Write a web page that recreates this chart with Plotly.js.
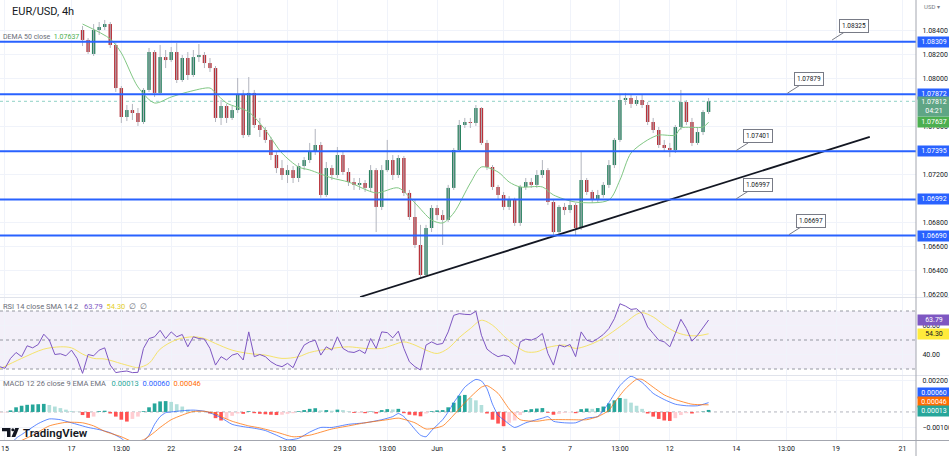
<!DOCTYPE html>
<html><head><meta charset="utf-8">
<script src="https://cdn.plot.ly/plotly-3.0.1.min.js"></script>
<style>html,body{margin:0;padding:0;background:#fff}#chart{width:949px;height:456px}</style>
</head><body><div id="chart"></div>
<script>
// ---------------- DATA ----------------
const firstBar = 14; // bar index of first visible candle (0 = Mon May 15, 4h bars)
const open = [
1.08408,1.08325,1.08208,1.08408,1.08433,1.08458,1.08283,1.07923,1.07681,1.07739,
1.07714,1.07639,1.07907,1.08224,1.07882,1.08182,1.08157,1.08224,1.07990,1.08174,
1.08032,1.08182,1.08199,1.08132,1.08090,1.07673,1.07773,1.07673,1.07739,1.07865,
1.07530,1.07882,1.07614,1.07572,1.07489,1.07363,1.07254,1.07196,1.07237,1.07171,
1.07271,1.07321,1.07388,1.07447,1.07029,1.07254,1.07196,1.07363,1.07221,1.07137,
1.07113,1.07129,1.07088,1.07237,1.06929,1.07237,1.07321,1.07196,1.07338,1.07046,
1.06845,1.06611,1.06360,1.06753,1.06920,1.06861,1.06820,1.07088,1.07405,1.07614,
1.07639,1.07631,1.07756,1.07464,1.07263,1.07096,1.07029,1.06929,1.06987,1.06795,
1.07096,1.07137,1.07113,1.07196,1.07237,1.06970,1.06719,1.06929,1.06903,1.06945,
1.06753,1.07154,1.07054,1.06987,1.07029,1.07113,1.07279,1.07489,1.07823,1.07840,
1.07790,1.07823,1.07781,1.07639,1.07572,1.07447,1.07422,1.07405,1.07597,1.07806,
1.07639,1.07464,1.07555,1.07723];
const high = [
1.08442,1.08341,1.08458,1.08475,1.08492,1.08475,1.08299,1.07940,1.07781,1.07790,
1.07756,1.07923,1.08258,1.08241,1.08283,1.08241,1.08266,1.08299,1.08199,1.08224,
1.08241,1.08291,1.08224,1.08174,1.08107,1.07823,1.07790,1.07773,1.08007,1.07907,
1.08015,1.07907,1.07673,1.07597,1.07514,1.07388,1.07321,1.07279,1.07271,1.07296,
1.07346,1.07464,1.07581,1.07472,1.07305,1.07279,1.07430,1.07388,1.07254,1.07171,
1.07171,1.07154,1.07279,1.07254,1.07279,1.07489,1.07363,1.07363,1.07355,1.07071,
1.06987,1.06779,1.06779,1.06945,1.06945,1.06903,1.07113,1.07422,1.07656,1.07673,
1.07673,1.07781,1.07764,1.07489,1.07279,1.07113,1.07054,1.07020,1.07006,1.07113,
1.07171,1.07171,1.07237,1.07321,1.07254,1.06987,1.06945,1.06962,1.06987,1.06962,
1.07388,1.07171,1.07071,1.07071,1.07137,1.07321,1.07505,1.07865,1.07882,1.07865,
1.07856,1.07865,1.07806,1.07673,1.07597,1.07489,1.07464,1.07614,1.07907,1.07823,
1.07673,1.07589,1.07739,1.07840];
const low = [
1.08274,1.08208,1.08191,1.08366,1.08408,1.08258,1.07890,1.07631,1.07647,1.07656,
1.07606,1.07622,1.07890,1.07848,1.07865,1.08090,1.08141,1.07965,1.07974,1.07990,
1.08015,1.08141,1.08090,1.08057,1.07639,1.07614,1.07631,1.07656,1.07714,1.07505,
1.07514,1.07589,1.07514,1.07464,1.07321,1.07212,1.07154,1.07129,1.07129,1.07137,
1.07237,1.07296,1.07363,1.07006,1.07012,1.07154,1.07171,1.07196,1.07104,1.07071,
1.07071,1.07054,1.07054,1.06719,1.06903,1.07221,1.07154,1.07171,1.07020,1.06820,
1.06586,1.06343,1.06343,1.06719,1.06820,1.06611,1.06803,1.07071,1.07388,1.07589,
1.07589,1.07606,1.07447,1.07237,1.07071,1.06987,1.06903,1.06903,1.06770,1.06770,
1.07071,1.07088,1.07088,1.07171,1.06945,1.06686,1.06694,1.06861,1.06878,1.06694,
1.06736,1.07029,1.06962,1.06962,1.07006,1.07088,1.07254,1.07472,1.07781,1.07756,
1.07773,1.07756,1.07614,1.07547,1.07422,1.07388,1.07346,1.07380,1.07572,1.07614,
1.07438,1.07447,1.07530,1.07706];
const close = [
1.08325,1.08224,1.08408,1.08433,1.08458,1.08283,1.07923,1.07681,1.07739,1.07714,
1.07639,1.07907,1.08224,1.07882,1.08182,1.08157,1.08224,1.07990,1.08174,1.08032,
1.08182,1.08199,1.08132,1.08090,1.07673,1.07773,1.07673,1.07739,1.07865,1.07530,
1.07882,1.07614,1.07572,1.07489,1.07363,1.07254,1.07196,1.07237,1.07171,1.07271,
1.07321,1.07388,1.07447,1.07029,1.07254,1.07196,1.07363,1.07221,1.07137,1.07113,
1.07129,1.07088,1.07237,1.06929,1.07237,1.07321,1.07196,1.07338,1.07046,1.06845,
1.06611,1.06360,1.06753,1.06920,1.06861,1.06820,1.07088,1.07405,1.07614,1.07639,
1.07631,1.07756,1.07464,1.07263,1.07096,1.07029,1.06929,1.06987,1.06795,1.07096,
1.07137,1.07113,1.07196,1.07237,1.06970,1.06719,1.06929,1.06903,1.06945,1.06753,
1.07154,1.07054,1.06987,1.07029,1.07113,1.07279,1.07489,1.07823,1.07840,1.07790,
1.07823,1.07781,1.07639,1.07572,1.07447,1.07422,1.07405,1.07597,1.07806,1.07639,
1.07464,1.07555,1.07723,1.07812];

const demaBars = [14,19,21,24,27,30,33,37,38,40,44,47,50,53,55,59,62,67,71,74,77,79,81,84,86,89,91,93,97,99,103,109,111,113,116,118,121,122,126,127];
const demaValues = [1.08458,1.08333,1.08216,1.07932,1.07798,1.07848,1.07890,1.07923,1.07882,1.07798,1.07723,1.07572,1.07379,1.07263,1.07238,1.07171,1.07137,1.07046,1.07088,1.06962,1.06820,1.06795,1.06878,1.07129,1.07263,1.07221,1.07137,1.07096,1.07096,1.07029,1.06970,1.06987,1.07154,1.07380,1.07489,1.07530,1.07530,1.07589,1.07597,1.07637];

const indicatorFirstBar = -1;
const rsi = [
31.6,30.5,37.3,41.4,38.5,46.0,44.6,46.9,54.0,50.0,
40.0,40.5,39.1,43.0,37.3,27.0,40.0,39.1,43.0,44.6,
32.7,27.5,28.2,28.6,27.5,27.7,44.2,51.0,52.2,56.7,
51.0,55.6,52.2,53.8,45.3,52.2,51.0,50.6,44.2,32.7,
38.5,36.2,39.6,40.7,36.2,55.6,38.5,40.0,38.5,35.0,
32.7,31.6,33.9,30.9,39.6,46.5,48.7,49.9,39.6,45.3,
43.0,52.2,44.2,41.9,41.4,43.0,40.7,51.0,44.2,55.6,
55.1,51.5,56.1,44.2,35.0,31.6,29.3,46.5,48.7,46.9,
47.6,55.6,67.0,68.2,67.7,67.5,69.8,53.3,43.7,40.7,
38.5,39.6,38.5,33.2,48.7,50.6,49.9,51.5,54.5,40.7,
32.7,46.5,45.3,46.9,38.5,55.6,49.9,48.7,51.0,53.8,
57.9,64.7,75.0,73.4,71.1,71.6,68.2,59.0,54.5,49.9,
48.7,45.3,54.5,64.3,57.9,49.2,53.3,59.0,63.79];
const rsiSmaBars = [-1,3,7,10,12,14,16,18,21,23,24,26,28,31,34,36,38,41,44,47,50,53,55,59,62,65,68,70,72,74,76,78,80,82,84,86,88,90,92,94,96,98,101,103,105,107,109,112,114,115,117,119,121,123,125,127];
const rsiSma = [30.0,37.3,43.7,45.3,44.6,40.3,37.3,36.9,33.7,31.6,30.9,33.9,43.7,50.3,52.2,51.0,47.6,43.0,40.7,39.6,37.3,38.5,41.4,44.2,45.3,44.2,44.2,46.5,48.7,46.5,43.0,40.7,44.2,51.7,57.9,63.6,60.2,52.9,46.5,41.9,41.9,44.9,46.5,44.2,46.0,49.2,53.8,62.0,67.7,68.9,65.9,60.2,55.6,53.3,52.9,54.30];

const histogram = [
-0.00005,-0.00003,0.00010,0.00030,0.00040,0.00046,0.00048,0.00050,0.00052,0.00045,
0.00035,0.00025,0.00015,0.00006,0.00002,-0.00020,-0.00038,-0.00030,0.00005,0.00008,
-0.00010,-0.00030,-0.00050,-0.00062,-0.00045,-0.00030,0.00005,0.00030,0.00055,0.00068,
0.00070,0.00065,0.00050,0.00035,0.00015,0.00008,0.00004,0.00002,-0.00010,-0.00040,
-0.00055,-0.00045,-0.00025,-0.00010,-0.00012,0.00005,-0.00008,-0.00012,-0.00015,-0.00018,
-0.00020,-0.00018,-0.00012,-0.00008,0.00005,0.00012,0.00020,0.00024,0.00010,0.00012,
0.00008,0.00015,0.00012,0.00004,-0.00006,-0.00005,-0.00008,0.00003,-0.00010,0.00012,
0.00018,0.00016,0.00020,-0.00008,-0.00018,-0.00022,-0.00028,-0.00010,0.00005,0.00010,
0.00012,0.00030,0.00060,0.00105,0.00110,0.00090,0.00075,0.00045,-0.00010,-0.00050,
-0.00075,-0.00092,-0.00070,-0.00055,-0.00020,0.00012,0.00018,0.00022,0.00025,-0.00005,
-0.00018,-0.00012,-0.00006,-0.00003,-0.00008,0.00018,0.00022,0.00020,0.00025,0.00035,
0.00055,0.00075,0.00090,0.00085,0.00060,0.00040,0.00020,-0.00010,-0.00030,-0.00045,
-0.00055,-0.00058,-0.00040,-0.00020,-0.00008,-0.00010,-0.00005,0.00003,0.00013];
const macdBars = [-1,2,3,6,8,10,11,13,15,17,19,21,22,24,26,27,28,29,30,32,34,36,37,39,41,43,45,47,49,51,53,55,57,59,62,65,68,70,71,72,73,75,76,77,79,80,81,82,83,85,86,87,88,89,90,92,94,97,98,99,101,103,105,107,108,109,111,113,115,117,119,121,123,125,127];
const macdLine = [-0.0030,-0.0017,-0.00146,-0.00075,-0.00045,-0.0005,-0.0006,-0.0008,-0.0010,-0.00114,-0.00134,-0.0017,-0.0020,-0.0022,-0.0015,-0.0008,-0.0003,-0.00005,0.0,0.00008,0.00012,0.00005,-0.00005,-0.00037,-0.0008,-0.00095,-0.00105,-0.0012,-0.0015,-0.0018,-0.0017,-0.0013,-0.0010,-0.0010,-0.0008,-0.0007,-0.0005,-0.0003,-0.0001,-0.0003,-0.0007,-0.0015,-0.0016,-0.0012,-0.0005,0.0,0.0006,0.0011,0.0016,0.0021,0.0020,0.0015,0.0005,-0.0002,-0.0005,-0.0010,-0.0007,-0.0004,-0.0003,-0.0006,-0.0007,-0.0007,-0.0004,-0.0003,0.0001,0.0006,0.0017,0.0023,0.0019,0.0012,0.0008,0.0005,0.0004,0.0004,0.0006];
const signalBars = [2,5,8,11,14,16,18,21,23,25,27,28,30,32,34,36,38,39,41,44,46,49,52,55,59,62,65,69,71,74,76,79,81,83,86,87,89,91,93,96,98,102,105,107,109,110,112,114,115,117,119,121,124,127];
const signalLine = [-0.0020,-0.0015,-0.0009,-0.00067,-0.0007,-0.0009,-0.00125,-0.0016,-0.0019,-0.0018,-0.0013,-0.0010,-0.0005,-0.0002,0.00003,0.00004,-0.0001,-0.0003,-0.0006,-0.0009,-0.00103,-0.0013,-0.0016,-0.0015,-0.0011,-0.0009,-0.0007,-0.0005,-0.0004,-0.0007,-0.0011,-0.0009,-0.0002,0.0006,0.0016,0.0017,0.0012,0.0002,-0.0005,-0.0006,-0.0005,-0.0005,-0.0005,-0.0003,0.0001,0.0006,0.0015,0.0021,0.0021,0.0016,0.0011,0.0008,0.0005,0.00046];

const levels = [1.08309, 1.07872, 1.07395, 1.06992, 1.06690];
const calloutBars = [149.3, 141.2, 132.0, 132.0, 141.5];
const calloutPrices = [1.08325, 1.07879, 1.07401, 1.06997, 1.06697];
const trendBars = [64.1, 156.1];
const trendPrices = [1.06176, 1.07514];
const tickBars = [0,12,21,30,42,51,60,69,78,90,102,111,120,132,141,150,162];
const tickLabels = ['15','17','13:00','22','24','13:00','29','13:00','Jun','5','7','13:00','12','14','13:00','19','21'];
const priceTicks = [1.062,1.064,1.066,1.068,1.072,1.076,1.080,1.082,1.084];
const rsiTicks = [40, 60];
const macdTicks = [0.002, -0.001];
const lastPrice = 1.07812, countdown = '04:21';
const lastDema = 1.07637, lastRsi = 63.79, lastRsiSma = 54.30;
const lastHist = 0.00013, lastMacd = 0.00060, lastSignal = 0.00046;

// ---------------- STYLE / BUILD ----------------
const UP = '#2a8260', DOWN = '#b8323a', WICK = '#b2b5be';
const W = 949, PH = 440;
const pxX = x => x / W, pxY = y => (PH - y) / PH;
const xEnd = 916 / W;
const FONT = 'Roboto, "Liberation Sans", Arial, sans-serif';

const cx = open.map((_, k) => firstBar + k);
const wx = [], wy = [];
cx.forEach((x, k) => { wx.push(x, x, null); wy.push(low[k], high[k], null); });
const bodyBase = open.map((o, k) => Math.min(o, close[k]));
const bodyLen = open.map((o, k) => Math.max(Math.abs(close[k] - o), 0.000025));
const bodyCol = open.map((o, k) => close[k] >= o ? UP : DOWN);

const ix = rsi.map((_, k) => indicatorFirstBar + k);
const histCol = histogram.map((v, k) => {
  const p = k > 0 ? histogram[k - 1] : v;
  if (v >= 0) return v >= p ? '#26A69A' : '#B2DFDB';
  return v < p ? '#FF5252' : '#FFCDD2';
});

const traces = [
  {type:'scatter', mode:'lines', x:wx, y:wy, line:{color:WICK, width:1}, hoverinfo:'skip', xaxis:'x', yaxis:'y'},
  {type:'bar', x:cx, y:bodyLen, base:bodyBase, width:0.62, marker:{color:bodyCol, line:{width:0}}, xaxis:'x', yaxis:'y'},
  {type:'scatter', mode:'lines', x:demaBars, y:demaValues, line:{color:'#81c784', width:1, shape:'spline', smoothing:0.8}, xaxis:'x', yaxis:'y'},
  {type:'scatter', mode:'lines', x:trendBars, y:trendPrices, line:{color:'#131722', width:1.8}, xaxis:'x', yaxis:'y'},
  {type:'scatter', mode:'lines', x:rsiSmaBars, y:rsiSma, line:{color:'#F5E36B', width:1, shape:'spline', smoothing:0.9}, xaxis:'x', yaxis:'y2'},
  {type:'scatter', mode:'lines', x:ix, y:rsi, line:{color:'#7E57C2', width:1}, xaxis:'x', yaxis:'y2'},
  {type:'bar', x:ix, y:histogram, width:0.66, marker:{color:histCol, line:{width:0}}, xaxis:'x', yaxis:'y3'},
  {type:'scatter', mode:'lines', x:macdBars, y:macdLine, line:{color:'#2962FF', width:1, shape:'spline', smoothing:0.6}, opacity:0.75, xaxis:'x', yaxis:'y3'},
  {type:'scatter', mode:'lines', x:signalBars, y:signalLine, line:{color:'#FF6D00', width:1, shape:'spline', smoothing:0.6}, opacity:0.75, xaxis:'x', yaxis:'y3'}
];

const shapes = [];
shapes.push({type:'rect', xref:'paper', yref:'y2', x0:0, x1:xEnd, y0:30, y1:70, fillcolor:'rgba(126,87,194,0.09)', line:{width:0}, layer:'below'});
[70, 50, 30].forEach(v => shapes.push({type:'line', xref:'paper', yref:'y2', x0:0, x1:xEnd, y0:v, y1:v, line:{color:'#9598a1', width:1, dash:'3px,3px'}, layer:'below'}));
shapes.push({type:'line', xref:'paper', yref:'y3', x0:0, x1:xEnd, y0:0, y1:0, line:{color:'#b2b5be', width:1, dash:'3px,3px'}, layer:'below'});
levels.forEach(v => shapes.push({type:'line', xref:'paper', yref:'y', x0:0, x1:xEnd, y0:v, y1:v, line:{color:'#2962FF', width:2}}));
shapes.push({type:'line', xref:'paper', yref:'y', x0:0, x1:xEnd, y0:lastPrice, y1:lastPrice, line:{color:'rgba(8,153,129,0.45)', width:1, dash:'dot'}, layer:'below'});
[297.5, 375.5].forEach(y => shapes.push({type:'line', xref:'paper', yref:'paper', x0:0, x1:1, y0:pxY(y), y1:pxY(y), line:{color:'#e0e3eb', width:1}}));
shapes.push({type:'line', xref:'paper', yref:'paper', x0:xEnd, x1:xEnd, y0:pxY(456), y1:1, line:{color:'#a3a6af', width:1}});
shapes.push({type:'line', xref:'paper', yref:'paper', x0:0, x1:1, y0:pxY(440.5), y1:pxY(440.5), line:{color:'#a3a6af', width:1}});
// TradingView logo mark
const P = pts => 'M ' + pts.map(p => pxX(p[0]) + ',' + pxY(p[1])).join(' L ') + ' Z';
shapes.push({type:'path', xref:'paper', yref:'paper', path:P([[2,428],[10.5,428],[10.5,437],[7,437],[7,431.2],[2,431.2]]), fillcolor:'#131722', line:{width:0}});
shapes.push({type:'circle', xref:'paper', yref:'paper', x0:pxX(11.3), x1:pxX(14.3), y0:pxY(431.2), y1:pxY(428.2), fillcolor:'#131722', line:{width:0}});
shapes.push({type:'path', xref:'paper', yref:'paper', path:P([[11.5,437],[15.2,428],[19,428],[15.3,437]]), fillcolor:'#131722', line:{width:0}});

const ann = [];
const txt = (x, y, text, size, color, extra) => Object.assign({xref:'paper', yref:'paper', x:pxX(x), y:pxY(y), text, showarrow:false, xanchor:'left', yanchor:'middle', font:{family:FONT, size, color}}, extra || {});
ann.push(txt(10, 12, 'EUR/USD, 4h', 11, '#131722'));
ann.push(txt(922, 6, 'USD ▾', 6, '#787b86'));
ann.push(txt(1, 37, 'DEMA 50 close &nbsp;<span style="color:#4caf50">' + lastDema.toFixed(5) + '</span>', 7, '#6a6d78'));
ann.push(txt(1, 306, 'RSI 14 close SMA 14 2 &nbsp;&nbsp;<span style="color:#7E57C2">' + lastRsi.toFixed(2) + '</span> &nbsp;<span style="color:#e6cf2a">' + lastRsiSma.toFixed(2) + '</span> &nbsp;∅ &nbsp;∅', 7.5, '#6a6d78'));
ann.push(txt(1, 383, 'MACD 12 26 close 9 EMA EMA &nbsp;&nbsp;<span style="color:#26A69A">' + lastHist.toFixed(5) + '</span> &nbsp;<span style="color:#2962FF">' + lastMacd.toFixed(5) + '</span> &nbsp;<span style="color:#FF6D00">' + lastSignal.toFixed(5) + '</span>', 7.5, '#6a6d78'));
ann.push(txt(21, 432.5, 'TradingView', 11.5, '#131722', {font:{family:FONT, size:11.5, color:'#131722', weight:600}}));
calloutBars.forEach((b, k) => ann.push({xref:'x', yref:'y', x:b, y:calloutPrices[k], text:calloutPrices[k].toFixed(5), showarrow:true, arrowhead:0, arrowwidth:1, arrowcolor:'#787b86', ax:22, ay:-14, standoff:0, bgcolor:'#ffffff', bordercolor:'#787b86', borderwidth:1, borderpad:2, font:{family:FONT, size:6.5, color:'#131722'}}));
const box = (yref, y, text, bg, fg, extra) => Object.assign({xref:'paper', yref, x:xEnd, y, text, showarrow:false, xanchor:'left', yanchor:'middle', xshift:1, width:30, align:'center', bgcolor:bg, borderpad:1, font:{family:FONT, size:7, color:fg}}, extra || {});
levels.forEach(v => ann.push(box('y', v, v.toFixed(5), '#2962FF', '#ffffff')));
ann.push(box('y', lastDema, lastDema.toFixed(5), '#4caf50', '#ffffff'));
ann.push(box('y', lastPrice, lastPrice.toFixed(5) + '<br>' + countdown, '#5fa585', '#ffffff', {yanchor:'top', yshift:5}));
ann.push(box('y2', lastRsi, lastRsi.toFixed(2), '#7E57C2', '#ffffff'));
ann.push(box('y2', lastRsiSma, lastRsiSma.toFixed(2), '#FFEB3B', '#131722'));
ann.push(box('paper', pxY(393), lastMacd.toFixed(5), '#2962FF', '#ffffff'));
ann.push(box('paper', pxY(402), lastSignal.toFixed(5), '#FF6D00', '#ffffff'));
ann.push(box('paper', pxY(411), lastHist.toFixed(5), '#26A69A', '#ffffff'));

const yCommon = {side:'right', anchor:'x', showline:false, zeroline:false, gridcolor:'#f0f3fa', ticks:'outside', ticklen:4, tickcolor:'rgba(0,0,0,0)', tickfont:{family:FONT, size:7, color:'#131722'}, fixedrange:true, tickmode:'array'};
const layout = {
  width:W, height:456, margin:{l:0, r:0, t:0, b:16, autoexpand:false},
  paper_bgcolor:'#ffffff', plot_bgcolor:'#ffffff', showlegend:false, barmode:'overlay', hovermode:false,
  xaxis:{domain:[0, xEnd], range:[-0.9, 164.44], anchor:'y3', tickmode:'array', tickvals:tickBars, ticktext:tickLabels, showgrid:true, gridcolor:'#f0f3fa', zeroline:false, showline:false, ticks:'outside', ticklen:2, tickcolor:'rgba(0,0,0,0)', tickfont:{family:FONT, size:7, color:'#131722'}},
  yaxis:Object.assign({}, yCommon, {domain:[pxY(297), 1], range:[1.06176, 1.08659], tickvals:priceTicks, tickformat:'.5f'}),
  yaxis2:Object.assign({}, yCommon, {domain:[pxY(375), pxY(298)], range:[25.86, 78.97], tickvals:rsiTicks, tickformat:'.2f'}),
  yaxis3:Object.assign({}, yCommon, {domain:[0, pxY(376)], range:[-0.00181, 0.00232], tickvals:macdTicks, tickformat:'.5f'}),
  shapes, annotations:ann
};
Plotly.newPlot('chart', traces, layout, {staticPlot:true, displayModeBar:false});
</script></body></html>
